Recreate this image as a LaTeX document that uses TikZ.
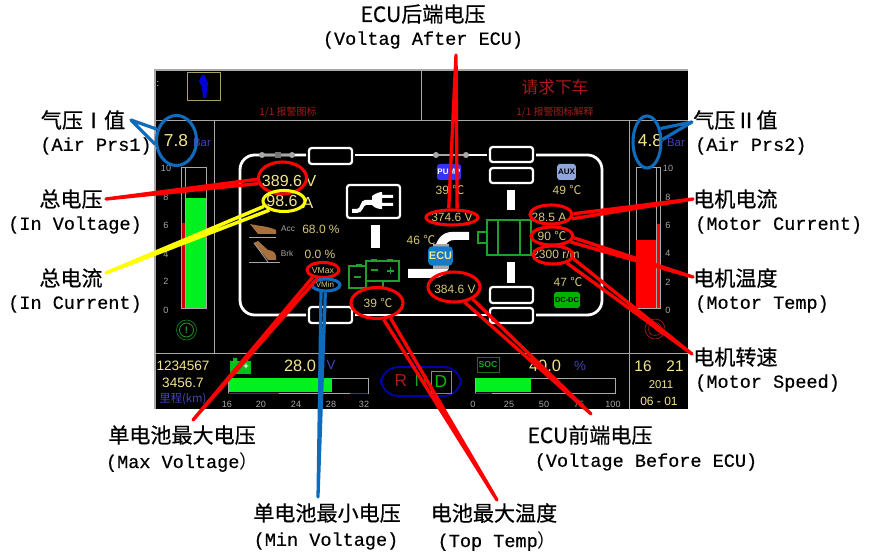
\documentclass[tikz,border=0pt]{standalone}
\usepackage{fontspec}
\usetikzlibrary{shapes.geometric}
\setmainfont{Liberation Sans}
\newfontfamily\cjk{Noto Sans CJK SC}
\newfontfamily\cjklab[FakeBold=0.5]{Noto Sans CJK SC}
\newfontfamily\lblmono[FakeBold=0.5]{Liberation Mono}
\definecolor{redc}{HTML}{FF0000}
\definecolor{bluec}{HTML}{0F6CBD}
\definecolor{yelc}{HTML}{FFFF00}
\definecolor{tan1}{HTML}{D8C878}
\definecolor{yel1}{HTML}{F4E68C}
\definecolor{dred}{HTML}{A81A1A}
\definecolor{pblue}{HTML}{4444B8}
\definecolor{gr1}{HTML}{A8A8A8}
\definecolor{grn}{HTML}{1FA02A}
\definecolor{lime}{HTML}{00F020}
\definecolor{ped}{HTML}{A8703C}
\newcommand{\cel}{{\cjk ℃}}
\tikzset{
 cnlabel/.style={inner sep=0pt,font=\cjklab\fontsize{15.8}{16}\selectfont,text=black},
 enlabel/.style={inner sep=0pt,font=\lblmono\fontsize{13.9}{14}\selectfont,text=black},
 ringbase/.style={ellipse,inner sep=0pt,minimum width=0.75*2*#1,line width=2.3pt,fill=none},
 ringr/.style={ringbase=#1,draw=redc},
 ringb/.style={ringbase=#1,draw=bluec},
 ringy/.style={ringbase=#1,draw=yelc},
 wedger/.style={draw=redc,line width=2.5pt,line join=round},
 wedgeb/.style={draw=bluec,line width=2.4pt,line join=round},
 wedgey/.style={draw=yelc,line width=2.6pt,line join=round},
 val/.style={inner sep=0pt,text=tan1,font=\fontsize{9}{10}\selectfont},
 big/.style={inner sep=0pt,text=yel1,font=\fontsize{#1}{#1}\selectfont},
 tick/.style={inner sep=0pt,text=gr1,font=\fontsize{6.8}{8}\selectfont},
 alarm/.style={inner sep=0pt,text=dred,font=\cjk\fontsize{#1}{#1}\selectfont},
 punit/.style={inner sep=0pt,text=pblue,font=\fontsize{#1}{#1}\selectfont},
 fr/.style={draw=white,line width=2.1pt},
 frbox/.style={draw=white,line width=1.7pt,rounded corners=2pt},
 grline/.style={draw=grn,line width=1.2pt},
 divider/.style={draw=gr1,line width=0.7pt},
 dot/.style={circle,fill=gr1,inner sep=0pt,minimum size=4.5pt}
}
\begin{document}
\begin{tikzpicture}[x=0.75pt,y=-0.75pt]
\useasboundingbox (0,0) rectangle (872,552);
\fill[white] (0,0) rectangle (872,552);
% panel
\fill[black] (155,70) rectangle (688,409);
\draw[gr1,line width=0.8pt] (155,409) -- (155,70) -- (688,70);
\draw[divider] (155,120.5) -- (688,120.5);
\draw[divider] (421,70) -- (421,120.5);
\draw[divider] (214,120.5) -- (214,353);
\draw[divider] (629,120.5) -- (629,409);
\draw[divider] (155,353) -- (688,353);
% top row
\draw[tan1!80!black,line width=0.7pt] (187,72) rectangle (220,100);
\fill[blue!85!black] (202,75) -- (205,75) -- (206,79) -- (208,83) -- (207,92) -- (206,98) -- (203,98) -- (202,87) -- (199,81) -- cycle;
\node[inner sep=0pt,text=white,font=\fontsize{7}{7}\selectfont] (colon) at (158,84) {:};
\node[alarm=7.5] (a1) at (288,112) {1/1 报警图标};
\node[alarm=12.5] (a2) at (555,87) {请求下车};
\node[alarm=7.5] (a3) at (555,112) {1/1 报警图标解释};
\node[big=13] (air1) at (176,141) {7.8};
\node[big=13] (air2) at (650,141) {4.8};
\node[punit=8.5] (bar1) at (202,143) {Bar};
\node[punit=8.5] (bar2) at (676,143) {Bar};
% left gauge
\draw[gr1,line width=0.7pt] (181,167) rectangle (206,308);
\draw[gr1,line width=0.7pt] (185,167) -- (185,308);
\fill[lime] (185.5,198) rectangle (206,308);
\fill[redc!80!black] (181.5,223) rectangle (184.5,308);
\foreach \n/\y in {10/168,8/197,6/225,4/254,2/281,0/310}{
  \node[tick] (lt\n) at (166,\y) {\n};
}
% right gauge
\draw[gr1,line width=0.7pt] (636,167) rectangle (660,308);
\draw[gr1,line width=0.7pt] (656,167) -- (656,308);
\fill[redc] (636,240) rectangle (656,308);
\fill[redc] (656.5,224) rectangle (659.5,308);
\foreach \n/\y in {10/168,8/197,6/225,4/253,2/282,0/310}{
  \node[tick] (rt\n) at (668,\y) {\n};
}
% brake icons
\draw[grn!80!black,line width=0.5pt] (186.5,330) circle (10);
\draw[grn,line width=0.6pt] (186.5,330) circle (7);
\node[inner sep=0pt,text=grn,font=\bfseries\fontsize{7}{7}\selectfont] (excl) at (186.5,330) {!};
\draw[dred,line width=0.5pt] (655,329) circle (10);
\draw[dred,line width=0.5pt] (655,329) circle (6.5);
\draw[dred,line width=0.5pt] (647,322) -- (663,336);
% frame
\draw[fr,rounded corners=11pt] (306,155) -- (240,155) -- (240,315) -- (306,315);
\draw[fr] (355,155) -- (487,155);
\draw[fr,rounded corners=11pt] (536,155) -- (602,155) -- (602,315) -- (536,315);
\draw[fr] (355,315) -- (487,315);
\draw[frbox] (309,148) rectangle (352,164);
\draw[frbox] (309,307) rectangle (352,323);
\draw[frbox] (490,147) rectangle (533,162);
\draw[frbox] (490,168) rectangle (533,183);
\draw[frbox] (490,287) rectangle (533,303);
\draw[frbox] (490,308) rectangle (533,323);
\draw[gr1,line width=2pt] (262,155) -- (292,155);
\draw[gr1,line width=2pt] (436,155) -- (466,155);
\node[dot] (d1) at (262,155) {};
\node[dot] (d2) at (292,155) {};
\node[dot] (d3) at (436,155) {};
\node[dot] (d4) at (466,155) {};
\fill[gr1!70!black] (275,152) rectangle (281,158);
% bars
\fill[white] (371,225) rectangle (380,248);
\fill[white] (507,190) rectangle (515,210);
\fill[white] (507,262) rectangle (515,283);
% plug
\draw[frbox] (347,185) rectangle (400,218);
\fill[white] (352,209) -- (357,209) .. controls (361,209) and (360,200) .. (365,200) -- (372,200) -- (372,196) .. controls (376,193) and (380,192) .. (382,192) -- (382,195) -- (393,195) -- (393,198) -- (382,198) -- (382,203) -- (393,203) -- (393,206) -- (382,206) -- (382,209) .. controls (378,209) and (375,208) .. (372,205) -- (366,205) .. controls (363,205) and (363,213) .. (357,213) -- (352,213) -- cycle;
% pipes
\fill[white] (408,269) -- (432,269) .. controls (436,269) and (438,266) .. (440,262) -- (449,268) .. controls (446,274) and (441,278) .. (434,278) -- (408,278) -- cycle;
\fill[white] (469,232) -- (452,232) .. controls (444,232) and (438,237) .. (435,247) -- (444,249) .. controls (446,243) and (449,240) .. (454,240) -- (469,240) -- cycle;
% battery
\draw[grline] (349,266) rectangle (366,288);
\draw[grline] (366,288) -- (383,288) -- (383,281);
\draw[grline] (366,261) rectangle (399,281);
\fill[grn] (356,264) rectangle (362,266);
\fill[grn] (371,259) rectangle (377,261);
\fill[grn] (387,259) rectangle (393,261);
\draw[grn,line width=1.3pt] (354,277) -- (361,277);
\draw[grn,line width=1.3pt] (371,270) -- (378,270);
\draw[grn,line width=1.3pt] (387,271) -- (394,271) (390.5,267.5) -- (390.5,274.5);
% motor
\draw[grline] (487,220) rectangle (531,255);
\draw[grline] (498,220) -- (498,255) (520,220) -- (520,255);
\draw[grline] (478,232) rectangle (487,243);
% ECU icon
\fill[gr1] (433,244) rectangle (449,269);
\node[draw=none,fill=cyan!60!blue,rounded corners=3pt,minimum width=18.5pt,minimum height=14.5pt,inner sep=0pt,text=yel1,font=\bfseries\fontsize{8.2}{8}\selectfont] (ecu) at (440.5,256) {ECU};
% PUMP, AUX, DC-DC
\node[fill=blue!80!white,rounded corners=2pt,minimum width=18pt,minimum height=12pt,inner sep=0pt,text=white,font=\bfseries\fontsize{6}{6}\selectfont] (pump) at (449,172) {PUMP};
\node[fill=cyan!40!blue!45!white,rounded corners=2pt,minimum width=14pt,minimum height=12pt,inner sep=0pt,text=black,font=\bfseries\fontsize{6}{6}\selectfont] (aux) at (566.5,172) {AUX};
\node[fill=green!70!black,rounded corners=2pt,minimum width=19.5pt,minimum height=12pt,inner sep=0pt,text=black,font=\bfseries\fontsize{5.5}{6}\selectfont] (dcdc) at (567,300) {DC-DC};
% pedals
\draw[gr1,line width=0.6pt] (249,237) -- (276,237);
\fill[ped] (250,224) .. controls (258,226) and (268,226) .. (276,230) -- (276,234) -- (258,234) -- cycle;
\draw[gr1,line width=0.6pt] (249,262) -- (280,262);
\fill[ped] (254,243) -- (258,241) -- (268,250) .. controls (274,250) and (277,254) .. (276,260) -- (268,260) -- cycle;
\draw[gr1,line width=0.6pt] (254,243) -- (268,262);
% values
\node[big=12] (v1) at (282,181) {389.6};
\node[big=12] (v1u) at (311,181) {V};
\node[big=12] (v2) at (282,201) {98.6};
\node[big=12] (v2u) at (308,203) {A};
\node[val,font=\fontsize{6.2}{7}\selectfont,text=gr1] (acc) at (288,229) {Acc};
\node[val,font=\fontsize{6.2}{7}\selectfont,text=gr1] (brk) at (287,254) {Brk};
\node[val] (v3) at (321,229) {68.0 \%};
\node[val] (v4) at (320,254) {0.0 \%};
\node[val,font=\fontsize{6.5}{7}\selectfont] (vmax) at (323,271) {VMax};
\node[val,font=\fontsize{6}{7}\selectfont] (vmin) at (325,285) {VMin};
\node[val] (t1) at (378,303) {39 \cel};
\node[val] (t2) at (421,240) {46 \cel};
\node[val] (t3) at (450,190) {39 \cel};
\node[val] (t4) at (567,190) {49 \cel};
\node[val] (t5) at (568,282) {47 \cel};
\node[val] (u1) at (452,217) {374.6 V};
\node[val] (u2) at (455,289) {384.6 V};
\node[val] (m1) at (549,217) {28.5 A};
\node[val] (m2) at (552,236) {90 \cel};
\node[val] (m3) at (556,254) {2300 r/m};
% bottom row
\node[big=10.2] (b1) at (183,366) {1234567};
\node[big=10.2] (b2) at (183,383) {3456.7};
\node[inner sep=0pt,text=pblue,font=\cjk\fontsize{8.5}{9}\selectfont] (b3) at (183,399) {里程(km)};
\fill[lime!80!black] (230,361) rectangle (251,374);
\fill[lime!80!black] (233,358) rectangle (237,361) (244,358) rectangle (248,361);
\node[inner sep=0pt,text=white,font=\bfseries\fontsize{7}{7}\selectfont] (bp) at (246,367) {+};
\node[big=12.3] (s1) at (300,366) {28.0};
\node[punit=10] (s1u) at (331,365) {V};
\draw[gr1,line width=0.7pt] (228,378) rectangle (368,393);
\fill[lime] (228.5,378.5) rectangle (332,392.5);
\draw[redc!80!black,line width=1pt] (228,393.5) -- (279,393.5);
\draw[redc!80!black,line width=1pt] (350,393.5) -- (368,393.5);
\foreach \n/\x in {16/227,20/261,24/296,28/331,32/364}{
  \node[tick] (ls\n) at (\x,404) {\n};
}
\draw[blue!70!black,line width=1.3pt,rounded corners=13pt] (381,367) rectangle (461,396);
\node[inner sep=0pt,text=dred,font=\fontsize{13}{13}\selectfont] (gr) at (401,381) {R};
\node[inner sep=0pt,text=grn,font=\fontsize{13}{13}\selectfont] (gn) at (421,381) {N};
\node[draw=tan1!70!black,line width=0.7pt,minimum width=15pt,minimum height=16.5pt,inner sep=0pt,text=green!75!black,font=\fontsize{13}{13}\selectfont] (gd) at (441,382) {D};
\node[draw=grn!70!black,line width=0.7pt,minimum width=16.5pt,minimum height=11pt,inner sep=0pt,text=grn,font=\bfseries\fontsize{6.5}{7}\selectfont] (soc) at (488,365) {SOC};
\node[big=12.3] (s2) at (545,366) {40.0};
\node[punit=10] (s2u) at (580,366) {\%};
\draw[gr1,line width=0.7pt] (475,378) rectangle (615,393);
\fill[lime] (475.5,378.5) rectangle (531,392.5);
\draw[redc!80!black,line width=1pt] (475,393.5) -- (492,393.5);
\foreach \n/\x in {0/473,25/509,50/544,75/579,100/613}{
  \node[tick] (lq\n) at (\x,404) {\n};
}
\node[big=11.5] (c1) at (643,366) {16};
\node[big=11.5] (c2) at (675,366) {21};
\node[big=8.5] (c3) at (661,385) {2011};
\node[big=9] (c4) at (659,401) {06 - 01};
% annotation rings
\node[ringb=20,minimum height=0.75*50] (rAirA) at (176.5,140.5) {};
\node[ringb=14,minimum height=0.75*52] (rAirB) at (647,142) {};
\node[ringr=24,minimum height=0.75*32] (rV) at (282.5,178) {};
\node[ringy=21,minimum height=0.75*21] (rA) at (284,201) {};
\node[ringr=26,minimum height=0.75*15] (rE2) at (452,217.5) {};
\node[ringr=21,minimum height=0.75*19] (rMc) at (551,214.5) {};
\node[ringr=21,minimum height=0.75*18] (rMt) at (552,236) {};
\node[ringr=20,minimum height=0.75*18] (rMs) at (553,255) {};
\node[ringr=26,minimum height=0.75*30] (rE1) at (454,287) {};
\node[ringr=26,minimum height=0.75*31] (rT) at (377,303) {};
\node[ringr=16,minimum height=0.75*15] (rMax) at (323,270) {};
\node[ringb=14,minimum height=0.75*12] (rMin) at (326,285) {};
% free ends
\coordinate (tAirA) at (131,120);
\coordinate (tAirB) at (692,122);
\coordinate (tV) at (106,199);
\coordinate (tA) at (106,273);
\coordinate (tE2) at (456,55);
\coordinate (tMc) at (693,199);
\coordinate (tMt) at (693,277);
\coordinate (tMs) at (692,354);
\coordinate (tE1) at (591,414);
\coordinate (tT) at (497,500);
\coordinate (tMax) at (193,420);
\coordinate (tMin) at (318,497);
% connectors
\draw[wedgeb] (rAirA.150) -- (tAirA) -- (rAirA.190);
\draw[wedgeb] (rAirB.45) -- (tAirB) -- (rAirB.9);
\draw[wedger] (rV.183) -- (tV) -- (rV.193);
\draw[wedgey] (rA.195) -- (tA) -- (rA.212);
\draw[wedger] (rE2.110) -- (tE2) -- (rE2.60);
\draw[wedger] (rMc.2) -- (tMc) -- (rMc.-12);
\draw[wedger] (rMt.-5) -- (tMt) -- (rMt.-18);
\draw[wedger] (rMs.-30) -- (tMs) -- (rMs.-10);
\draw[wedger] (rE1.-55) -- (tE1) -- (rE1.-33);
\draw[wedger] (rT.-68) -- (tT) -- (rT.-48);
\draw[wedger] (rMax.215) -- (tMax) -- (rMax.236);
\draw[wedgeb] (rMin.235) -- (tMin) -- (rMin.265);
% labels
\node[cnlabel] (l1a) at (423,14) {ECU后端电压};
\node[enlabel] (l1b) at (423,40) {(Voltag After ECU)};
\node[cnlabel] (l2a) at (83,120) {气压Ⅰ值};
\node[enlabel] (l2b) at (96,146) {(Air Prs1)};
\node[cnlabel] (l3a) at (71,199) {总电压};
\node[enlabel] (l3b) at (75,225) {(In Voltage)};
\node[cnlabel] (l4a) at (71,278) {总电流};
\node[enlabel] (l4b) at (75,304) {(In Current)};
\node[cnlabel,anchor=west] (l5a) at (693,120) {气压Ⅱ值};
\node[enlabel,anchor=west] (l5b) at (695,146) {(Air Prs2)};
\node[cnlabel,anchor=west] (l6a) at (693,199) {电机电流};
\node[enlabel,anchor=west] (l6b) at (695,225) {(Motor Current)};
\node[cnlabel,anchor=west] (l7a) at (693,278) {电机温度};
\node[enlabel,anchor=west] (l7b) at (695,304) {(Motor Temp)};
\node[cnlabel,anchor=west] (l8a) at (693,357) {电机转速};
\node[enlabel,anchor=west] (l8b) at (695,383) {(Motor Speed)};
\node[cnlabel] (l9a) at (182,435) {单电池最大电压};
\node[enlabel] (l9b) at (182,462) {(Max Voltage{\cjk ）}};
\node[cnlabel] (l10a) at (590,435) {ECU前端电压};
\node[enlabel] (l10b) at (646,462) {(Voltage Before ECU)};
\node[cnlabel] (l11a) at (327,513) {单电池最小电压};
\node[enlabel] (l11b) at (326,541) {(Min Voltage)};
\node[cnlabel] (l12a) at (494,513) {电池最大温度};
\node[enlabel] (l12b) at (497,541) {(Top Temp{\cjk ）}};
\end{tikzpicture}
\end{document}
